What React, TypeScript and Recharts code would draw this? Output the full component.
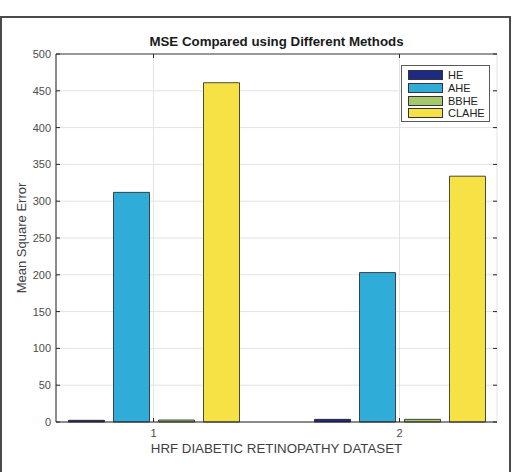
import { Bar, BarChart, CartesianGrid, Label, Legend, ReferenceLine, XAxis, YAxis } from 'recharts';

const groups = ['1', '2'];
const methods = ['HE', 'AHE', 'BBHE', 'CLAHE'];
const heValues = [2.3, 3.6];
const aheValues = [312, 203];
const bbheValues = [2.7, 3.6];
const claheValues = [461, 334];
const yTicks = [0, 50, 100, 150, 200, 250, 300, 350, 400, 450, 500];
const COLORS = ['#1c2a86', '#30acd9', '#a6c86c', '#f7e246'];

const data = groups.map((g, i) => ({
  group: g,
  HE: heValues[i],
  AHE: aheValues[i],
  BBHE: bbheValues[i],
  CLAHE: claheValues[i],
}));

const FONT = '"Liberation Sans", Arial, sans-serif';
const W = 513;
const H = 472;
const PLOT_LEFT = 56;
const PLOT_TOP = 54;
const PLOT_RIGHT = 497;
const PLOT_BOTTOM = 422;
const AXIS = '#262626';

function YTick({ x, y, payload }: any) {
  return (
    <g>
      <text x={x} y={y} dy={4} textAnchor="end" fontSize={11} fill="#4d4d4d" fontFamily={FONT}>
        {payload.value}
      </text>
      <line x1={PLOT_LEFT} x2={PLOT_LEFT + 4} y1={y} y2={y} stroke={AXIS} />
      <line x1={PLOT_RIGHT - 4} x2={PLOT_RIGHT} y1={y} y2={y} stroke={AXIS} />
    </g>
  );
}

function XTick({ x, y, payload }: any) {
  return (
    <g>
      <text x={x} y={y} dy="0.71em" textAnchor="middle" fontSize={11} fill="#4d4d4d" fontFamily={FONT}>
        {payload.value}
      </text>
      <line x1={x} x2={x} y1={PLOT_BOTTOM} y2={PLOT_BOTTOM - 4} stroke={AXIS} />
      <line x1={x} x2={x} y1={PLOT_TOP} y2={PLOT_TOP + 4} stroke={AXIS} />
    </g>
  );
}

function LegendBox({ payload }: any) {
  // keep the series order (HE, AHE, BBHE, CLAHE) instead of alphabetical
  const items = [...(payload || [])].sort(
    (a: any, b: any) => methods.indexOf(a.value) - methods.indexOf(b.value),
  );
  return (
    <div
      style={{
        boxSizing: 'border-box',
        width: 89,
        height: 57,
        border: '1px solid #5a5a5a',
        background: '#fff',
        padding: '3px 0 0 6px',
        fontFamily: FONT,
      }}
    >
      {items.map((p: any) => (
        <div key={p.value} style={{ display: 'flex', alignItems: 'center', height: 12.7 }}>
          <span
            style={{
              display: 'inline-block',
              width: 35,
              height: 10,
              background: p.color,
              border: '1px solid #333',
              boxSizing: 'border-box',
            }}
          />
          <span style={{ marginLeft: 5, fontSize: 11, color: '#222', lineHeight: '12px' }}>{p.value}</span>
        </div>
      ))}
    </div>
  );
}

export default function App() {
  return (
    <div style={{ position: 'absolute', left: 0, top: 0, width: W, height: H, background: '#fff', fontFamily: FONT }}>
      <BarChart
        width={W}
        height={H}
        data={data}
        margin={{ top: PLOT_TOP, right: W - PLOT_RIGHT, bottom: 20, left: 10 }}
        barSize={36}
        barGap={9}
      >
        <CartesianGrid stroke="#e3e3e3" />
        <XAxis
          dataKey="group"
          height={30}
          padding={{ left: -25.5, right: -25.5 }}
          axisLine={{ stroke: AXIS }}
          tickLine={false}
          tickSize={3}
          tickMargin={4}
          tick={<XTick />}
        >
          <Label
            content={() => (
              <text x={(PLOT_LEFT + PLOT_RIGHT) / 2} y={453} textAnchor="middle" fontSize={13.3} fill="#404040" fontFamily={FONT}>
                HRF DIABETIC RETINOPATHY DATASET
              </text>
            )}
          />
        </XAxis>
        <YAxis
          width={46}
          domain={[0, 500]}
          ticks={yTicks}
          axisLine={{ stroke: AXIS }}
          tickLine={false}
          tickSize={3}
          tickMargin={2}
          tick={<YTick />}
        >
          <Label
            content={() => (
              <text
                x={22}
                y={(PLOT_TOP + PLOT_BOTTOM) / 2}
                transform={`rotate(-90 22 ${(PLOT_TOP + PLOT_BOTTOM) / 2})`}
                dy={4}
                textAnchor="middle"
                fontSize={13}
                fill="#404040"
                fontFamily={FONT}
              >
                Mean Square Error
              </text>
            )}
          />
        </YAxis>
        <YAxis
          yAxisId="right"
          orientation="right"
          width={0}
          domain={[0, 500]}
          allowDataOverflow
          axisLine={{ stroke: '#5a5a5a' }}
          tickLine={false}
          tick={false}
        />
        <ReferenceLine y={500} stroke="#404040" />
        <Legend
          layout="vertical"
          align="center"
          verticalAlign="middle"
          content={<LegendBox />}
          wrapperStyle={{ position: 'absolute', left: 401, top: 65, width: 89, height: 57 }}
        />
        {methods.map((m, i) => (
          <Bar key={m} dataKey={m} fill={COLORS[i]} stroke="#1f1f1f" strokeWidth={0.8} isAnimationActive={false} />
        ))}
      </BarChart>
      <div
        style={{
          position: 'absolute',
          left: PLOT_LEFT,
          top: 34,
          width: PLOT_RIGHT - PLOT_LEFT,
          textAlign: 'center',
          fontSize: 13.3,
          lineHeight: '16px',
          fontWeight: 'bold',
          color: '#1a1a1a',
        }}
      >
        MSE Compared using Different Methods
      </div>
      <div
        style={{
          position: 'absolute',
          left: 0,
          top: 16,
          width: 511,
          height: 480,
          boxSizing: 'border-box',
          border: '2px solid #4a4a4a',
          pointerEvents: 'none',
        }}
      />
    </div>
  );
}
